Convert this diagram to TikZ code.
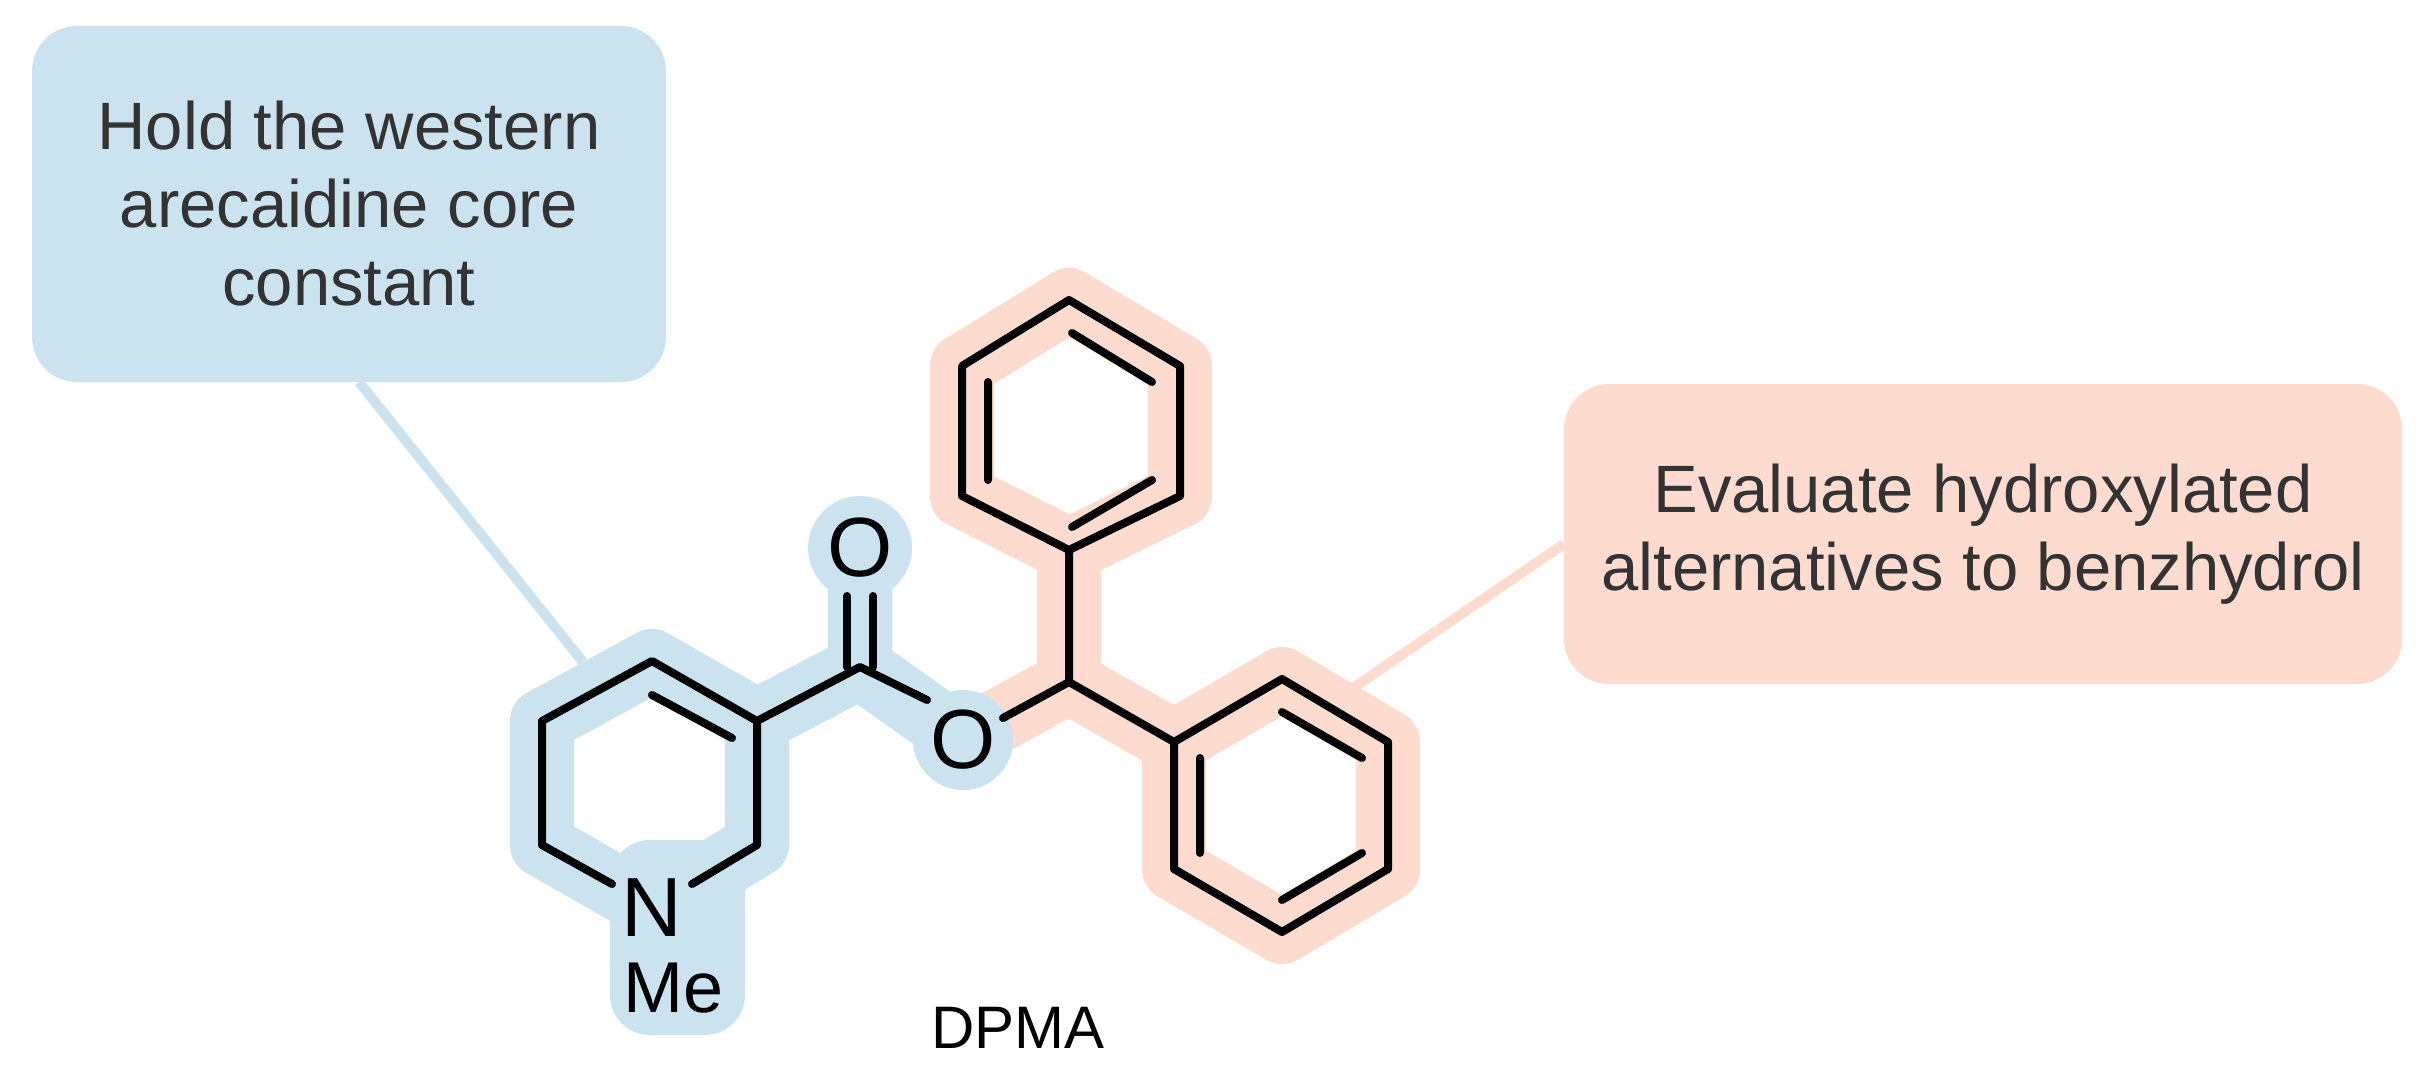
\documentclass[tikz,border=0pt]{standalone}
\usepackage{fontspec}
\setmainfont{Liberation Sans}
\begin{document}
\begin{tikzpicture}[x=1pt,y=-1pt,
  bond/.style={line width=8pt,black,line cap=round,line join=round},
  hlb/.style={line width=64pt,draw=hb,line cap=round,line join=round},
  hlo/.style={line width=64pt,draw=ho,line cap=round,line join=round},
  atom/.style={font=\fontsize{84}{86}\selectfont,inner sep=0pt},
  boxtxt/.style={font=\fontsize{67}{78}\selectfont,text=txt,align=center}]
\definecolor{hb}{HTML}{CBE3EE}
\definecolor{ho}{HTML}{FDDCCF}
\definecolor{txt}{HTML}{333333}
\useasboundingbox (0,0) rectangle (2430,1065);
% coordinates
\coordinate (c4) at (652,661); \coordinate (c3) at (757,721);
\coordinate (c2) at (757,845); \coordinate (nn) at (652,908);
\coordinate (c6) at (542,845); \coordinate (c5) at (542,721);
\coordinate (cc) at (860,667); \coordinate (oc) at (860,548);
\coordinate (oe) at (963,740); \coordinate (ch) at (1069,682);
\coordinate (a1) at (1069,550); \coordinate (a2) at (1180,496);
\coordinate (a3) at (1180,366); \coordinate (a4) at (1069,300);
\coordinate (a5) at (962,366); \coordinate (a6) at (962,496);
\coordinate (b1) at (1174,742); \coordinate (b2) at (1282,679);
\coordinate (b3) at (1388,742); \coordinate (b4) at (1388,869);
\coordinate (b5) at (1282,932); \coordinate (b6) at (1174,869);
% boxes
\node[boxtxt,fill=hb,rounded corners=45pt,minimum width=634pt,minimum height=356pt] (lbox) at (349,204)
  {Hold the western\\arecaidine core\\constant};
\node[boxtxt,fill=ho,rounded corners=45pt,minimum width=838pt,minimum height=300pt] (rbox) at (1983,534)
  {Evaluate hydroxylated\\alternatives to benzhydrol};
\coordinate (lend) at (583,662);
\coordinate (rend) at (1353,688);
\draw[hb,line width=10pt] (359,382) -- (lend);
\draw[ho,line width=10pt] (rbox.west |- 0,544) -- (rend);
% orange highlights
\draw[hlo] (a1)--(a2)--(a3)--(a4)--(a5)--(a6)--cycle;
\draw[hlo] (b1)--(b2)--(b3)--(b4)--(b5)--(b6)--cycle;
\draw[hlo] (oe)--(ch)--(a1) (ch)--(b1);
% blue highlights
\draw[hlb] (nn)--(c6)--(c5)--(c4)--(c3)--(c2)--(nn);
\draw[hlb] (c3)--(cc)--(oc) (cc)--(oe);
\fill[hb,rounded corners=40pt] (610,840) rectangle (745,1035);
\fill[hb] (oc) circle (52pt);
\fill[hb] (oe) circle (50pt);
% bonds
\draw[bond] (612,884)--(c6)--(c5)--(c4)--(c3)--(c2)--(692,884);
\draw[bond] (652,695)--(732,738);
\draw[bond] (c3)--(cc)--(927,700);
\draw[bond] (1003,718)--(ch)--(a1) (ch)--(b1);
\draw[bond] ([xshift=-13pt]cc)--([xshift=-13pt]860,596) ([xshift=13pt]cc)--([xshift=13pt]860,596);
\draw[bond] (a1)--(a2)--(a3)--(a4)--(a5)--(a6)--cycle;
\draw[bond] (b1)--(b2)--(b3)--(b4)--(b5)--(b6)--cycle;
\draw[bond] (1072,333)--(1152,382) (1152,480)--(1072,527) (988,382)--(988,480);
\draw[bond] (1282,712)--(1362,758) (1362,853)--(1282,900) (1200,758)--(1200,853);
% atoms
\node[atom] (O1) at (oc) {O};
\node[atom] (O2) at (oe) {O};
\node[atom] (N) at (652,908) {N};
\node[atom,font=\fontsize{72}{74}\selectfont] (Me) at (674,988) {Me};
\node[font=\fontsize{60}{62}\selectfont,inner sep=0pt] (dpma) at (1018,1028) {DPMA};
\end{tikzpicture}
\end{document}
